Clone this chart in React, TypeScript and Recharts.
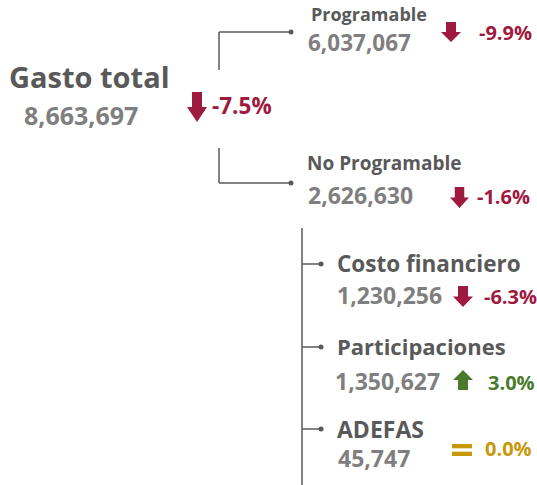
import { ScatterChart, Scatter, XAxis, YAxis, ReferenceLine, ReferenceDot } from "recharts"

const NAMES = ["Gasto total", "Programable", "No Programable", "Costo financiero", "Participaciones", "ADEFAS"]
const AMOUNTS = [8663697, 6037067, 2626630, 1230256, 1350627, 45747]
const CHANGES = [-7.5, -9.9, -1.6, -6.3, 3.0, 0.0]

// layout only (name baseline anchor + offsets of value, arrow, pct)
const LAYOUT = [
  { x: 9, y: 88, nameSize: 29, vdx: 15, vdy: 37, valSize: 25, adx: 178, ady: 4, aw: 20, ah: 30, pdx: 203, pdy: 26, pctSize: 22.5 },
  { x: 311, y: 21, nameSize: 18, vdx: -3, vdy: 30, valSize: 22.5, adx: 130, ady: 1, aw: 20, ah: 20, pdx: 168, pdy: 19, pctSize: 20 },
  { x: 307, y: 170, nameSize: 19, vdx: 1, vdy: 34, valSize: 23, adx: 143, ady: 17, aw: 19, ah: 21, pdx: 170, pdy: 34, pctSize: 20 },
  { x: 337, y: 272, nameSize: 22.5, vdx: 0, vdy: 32, valSize: 23, adx: 116, ady: 14, aw: 20, ah: 21, pdx: 147, pdy: 32, pctSize: 20 },
  { x: 337, y: 355, nameSize: 22, vdx: -2, vdy: 35, valSize: 23, adx: 116, ady: 15, aw: 20, ah: 20, pdx: 151, pdy: 35, pctSize: 20 },
  { x: 337, y: 438, nameSize: 23, vdx: 1, vdy: 29, valSize: 23, adx: 115, ady: 6, aw: 20, ah: 12, pdx: 148, pdy: 18, pctSize: 20 },
]

const LINKS = [
  [[219, 70], [219, 32]], [[219, 32], [290, 32]],
  [[219, 148], [219, 183]], [[219, 183], [290, 183]],
  [[302, 228], [302, 485]],
  [[302, 264], [320, 264]], [[302, 347], [320, 347]], [[302, 429], [320, 429]],
]
const DOTS = [[291, 32], [291, 183], [321, 264], [321, 347], [321, 429]]

const RED = "#9e1a3e"
const GREEN = "#4a7a2c"
const GOLD = "#c8970a"
const DARK = "#595959"
const GREY = "#7f7f7f"
const FONT = "'Open Sans', sans-serif"

const nodes = NAMES.map((name, i) => ({ name, amount: AMOUNTS[i], change: CHANGES[i], ...LAYOUT[i] }))

function Arrow({ x, y, w, h, dir }: { x: number; y: number; w: number; h: number; dir: number }) {
  if (dir === 0) {
    const bh = h * 0.36
    return (
      <g fill={GOLD}>
        <rect x={x} y={y} width={w} height={bh} />
        <rect x={x} y={y + h - bh} width={w} height={bh} />
      </g>
    )
  }
  const s1 = x + w * 0.25
  const s2 = x + w * 0.75
  const d =
    dir < 0
      ? `M${s1},${y} L${s2},${y} L${s2},${y + h * 0.5} L${x + w},${y + h * 0.5} L${x + w / 2},${y + h} L${x},${y + h * 0.5} L${s1},${y + h * 0.5} Z`
      : `M${s1},${y + h} L${s2},${y + h} L${s2},${y + h * 0.5} L${x + w},${y + h * 0.5} L${x + w / 2},${y} L${x},${y + h * 0.5} L${s1},${y + h * 0.5} Z`
  return <path d={d} fill={dir < 0 ? RED : GREEN} />
}

function NodeShape(props: any) {
  const { cx, cy, payload: p } = props
  const dir = Math.sign(p.change)
  const color = dir < 0 ? RED : dir > 0 ? GREEN : GOLD
  return (
    <g fontFamily={FONT} fontWeight={700}>
      <text x={cx} y={cy} fontSize={p.nameSize} fill={DARK}>{p.name}</text>
      <text x={cx + p.vdx} y={cy + p.vdy} fontSize={p.valSize} fill={GREY}>
        {p.amount.toLocaleString("en-US")}
      </text>
      <Arrow x={cx + p.adx} y={cy + p.ady} w={p.aw} h={p.ah} dir={dir} />
      <text x={cx + p.pdx} y={cy + p.pdy} fontSize={p.pctSize} fill={color}>
        {p.change.toFixed(1)}%
      </text>
    </g>
  )
}

export default function App() {
  return (
    <div style={{ position: "absolute", top: 0, left: 0, width: 537, height: 485, background: "#fff" }}>
      <ScatterChart width={537} height={485} margin={{ top: 0, right: 0, bottom: 0, left: 0 }}>
        <XAxis type="number" dataKey="x" domain={[0, 537]} hide />
        <YAxis type="number" dataKey="y" domain={[0, 485]} reversed hide />
        {LINKS.map((seg, i) => (
          <ReferenceLine
            key={i}
            segment={seg.map(([x, y]) => ({ x, y }))}
            stroke={DARK}
            strokeWidth={1.5}
            ifOverflow="visible"
          />
        ))}
        {DOTS.map(([x, y], i) => (
          <ReferenceDot key={i} x={x} y={y} r={2.5} fill={DARK} stroke="none" ifOverflow="visible" />
        ))}
        <Scatter data={nodes} isAnimationActive={false} shape={(p: any) => <NodeShape {...p} />} />
      </ScatterChart>
    </div>
  )
}
